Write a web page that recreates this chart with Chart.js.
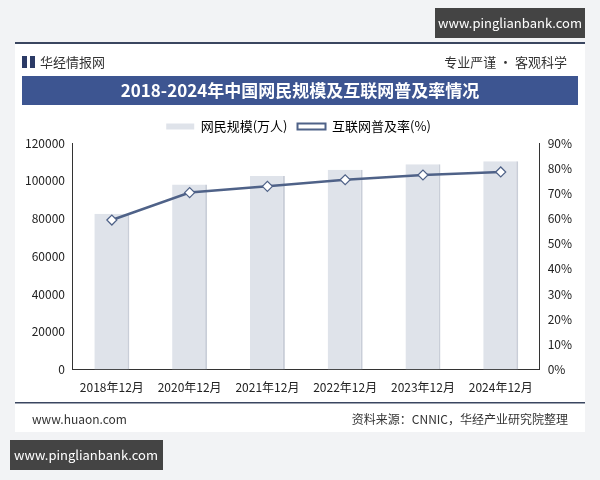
<!DOCTYPE html>
<html><head><meta charset="utf-8">
<script src="https://cdn.jsdelivr.net/npm/chart.js@4"></script>
<style>html,body{margin:0;padding:0;background:#fff;}canvas{display:block}</style>
</head><body>
<div style="width:600px;height:480px"><canvas id="c"></canvas></div>
<script>
const categories = ['2018年12月','2020年12月','2021年12月','2022年12月','2023年12月','2024年12月'];
const netizens = [82500, 98000, 102500, 105900, 108750, 110400];
const penetration = [59.4, 70.3, 72.8, 75.4, 77.3, 78.5];
const leftTicks = [0,20000,40000,60000,80000,100000,120000];
const F = '"Noto Sans CJK SC", sans-serif';

const deco = {
  id:'deco',
  beforeDraw(ch){
    const c=ch.ctx; c.save();
    c.fillStyle='#f2f3f5'; c.fillRect(0,0,600,480);
    c.fillStyle='#fff'; c.fillRect(15,42,570,390);
    c.fillStyle='#3a4660'; c.fillRect(15,42,570,2);
    c.fillStyle='#2b3a66'; c.fillRect(22,56,5,12); c.fillRect(30,56,5,12);
    c.fillStyle='#333'; c.font='13px '+F; c.textBaseline='middle';
    c.fillText('华经情报网',40,62);
    c.textAlign='right'; c.fillText('专业严谨 • 客观科学',567,62);
    c.fillStyle='#3d5591'; c.fillRect(22,76,556,29);
    c.fillStyle='#fff'; c.textAlign='center'; c.font='bold 17px '+F;
    c.fillText('2018-2024年中国网民规模及互联网普及率情况',300,91);
    c.fillStyle='#3a4660'; c.fillRect(15,402,570,1.5);
    c.fillStyle='#333'; c.font='12px '+F; c.textAlign='left';
    c.fillText('www.huaon.com',32,419);
    c.textAlign='right'; c.fillText('资料来源：CNNIC，华经产业研究院整理',568,419);
    c.fillStyle='#444'; c.fillRect(435,8,150,30); c.fillRect(10,440,153,30);
    c.fillStyle='#fff'; c.font='13px '+F; c.textAlign='center';
    c.fillText('www.pinglianbank.com',510,23); c.fillText('www.pinglianbank.com',86,455);
    c.restore();
  }
};

new Chart(document.getElementById('c'),{
  data:{labels:categories,datasets:[
    {type:'line',label:'互联网普及率(%)',data:penetration,yAxisID:'y1',borderColor:'#4f6288',borderWidth:2.5,
     pointStyle:'rectRot',pointRadius:5,pointBackgroundColor:'#fff',pointBorderColor:'#4f6288',pointBorderWidth:1.2,order:0},
    {type:'bar',label:'网民规模(万人)',data:netizens,yAxisID:'y',backgroundColor:'#dfe3ea',borderColor:'#c9ced8',
     borderWidth:{right:2},barPercentage:0.45,categoryPercentage:1,order:1}
  ]},
  options:{responsive:true,maintainAspectRatio:false,animation:false,
    layout:{padding:{top:110,left:22,right:25,bottom:82}},
    plugins:{legend:{labels:{font:{family:F,size:13},color:'#333',boxWidth:28,boxHeight:6,
      generateLabels(ch){return [
        {text:'网民规模(万人)',fillStyle:'#dfe3ea',strokeStyle:'#dfe3ea',lineWidth:0,datasetIndex:1},
        {text:'互联网普及率(%)',fillStyle:'#fff',strokeStyle:'#4f6288',lineWidth:2,datasetIndex:0}];}}},
      tooltip:{enabled:false}},
    scales:{
      x:{grid:{display:false,drawTicks:true},border:{color:'#333'},ticks:{color:'#222',font:{family:F,size:12}}},
      y:{min:0,max:120000,afterBuildTicks(a){a.ticks=leftTicks.map(v=>({value:v}));},grid:{display:false,drawTicks:true,tickLength:5},
         border:{color:'#333'},ticks:{color:'#222',font:{family:F,size:12},callback:v=>String(v)}},
      y1:{position:'right',min:0,max:90,grid:{display:false,drawTicks:true,tickLength:5},border:{color:'#333'},
         ticks:{stepSize:10,color:'#222',font:{family:F,size:12},callback:v=>v+'%'}}
    }},
  plugins:[deco]
});
</script></body></html>
